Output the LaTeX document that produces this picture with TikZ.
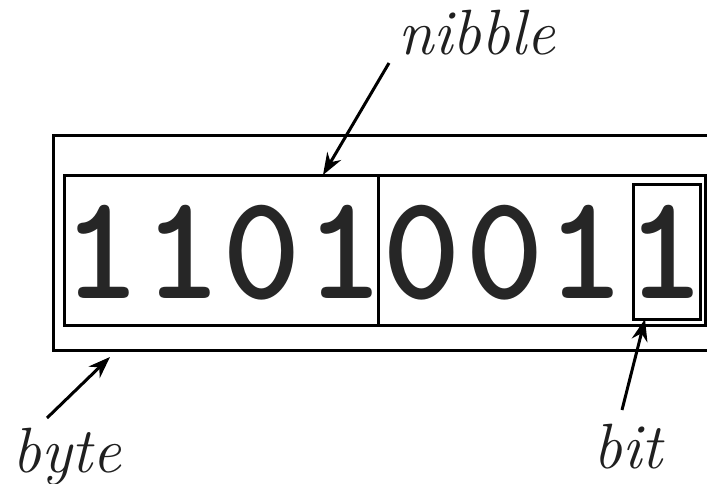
\documentclass[tikz,border=0pt]{standalone}
\usepackage{fontspec}
\usetikzlibrary{arrows.meta}
\tikzset{
  boxline/.style={draw=black, line width=3pt},
  digit/.style={font=\ttfamily\bfseries\fontsize{150}{150}\selectfont, text=black!85, inner sep=0pt, anchor=base},
  label/.style={font=\itshape\fontsize{64}{64}\selectfont, text=black!88, inner sep=0pt, anchor=base west},
  pointer/.style={line width=3pt, -{Stealth[length=22pt,width=16pt]}}
}
\begin{document}
\begin{tikzpicture}[x=1pt,y=-1pt]
\useasboundingbox (0,0) rectangle (707,484);
% byte frame (open at right)
\draw[boxline] (707,136) -- (53,136) -- (53,350) -- (707,350);
% nibble boxes
\node[boxline, minimum width=314pt, minimum height=150pt, inner sep=0pt, anchor=north west] (nib1) at (63,174) {};
\node[boxline, minimum width=327pt, minimum height=150pt, inner sep=0pt, anchor=north west] (nib2) at (377,174) {};
% bit box
\node[boxline, minimum width=67pt, minimum height=135pt, inner sep=0pt, anchor=north west] (bitbox) at (632,183) {};
% digits
\node[digit] (d1) at (102,298) {1};
\node[digit] (d2) at (183,298) {1};
\node[digit] (d3) at (262,298) {0};
\node[digit] (d4) at (345,298) {1};
\node[digit] (d5) at (422,298) {0};
\node[digit] (d6) at (505,298) {0};
\node[digit] (d7) at (586,298) {1};
\node[digit] (d8) at (666,298) {1};
% labels
\node[label] (nibble) at (398,55) {nibble};
\node[label] (byte) at (12,472) {byte};
\node[label] (bit) at (593,468) {bit};
% arrow ends
\coordinate (nibS) at (389,63);
\coordinate (nibE) at (323,175);
\coordinate (byteS) at (47,418);
\coordinate (byteE) at (110,357);
\coordinate (bitS) at (622,410);
\coordinate (bitE) at (645,319);
\draw[pointer] (nibS) -- (nibE);
\draw[pointer] (byteS) -- (byteE);
\draw[pointer] (bitS) -- (bitE);
\end{tikzpicture}
\end{document}
